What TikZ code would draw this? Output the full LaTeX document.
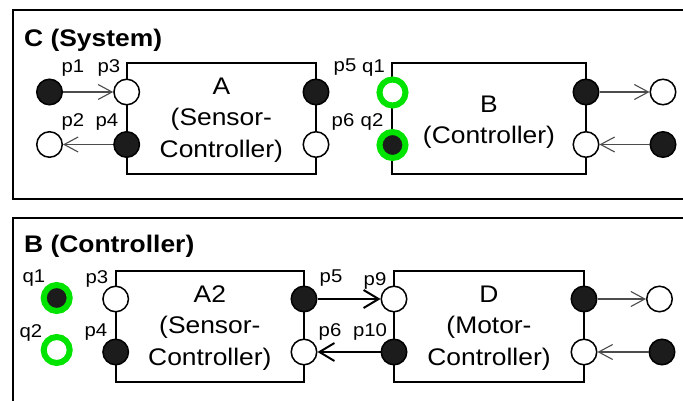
\documentclass[tikz,border=0pt]{standalone}
\usepackage{fontspec}
\setmainfont[FakeStretch=1.1]{Liberation Sans}
\usetikzlibrary{arrows.meta}
\definecolor{dark}{RGB}{28,28,28}
\definecolor{ringgreen}{RGB}{0,228,0}
\newcommand{\firstline}[1]{\rule{0pt}{#1}}
\begin{document}
\begin{tikzpicture}[x=1pt,y=-1pt,
  frame/.style={draw=black, line width=2pt},
  box/.style={draw=black, line width=2pt, rectangle, minimum width=#1, minimum height=111pt,
    inner sep=0pt, align=center, font=\fontsize{24}{31.5}\selectfont},
  box/.default=190pt,
  port/.style={circle, draw=black, line width=1.5pt, minimum size=25.5pt, inner sep=0pt},
  portf/.style={port, fill=dark},
  porto/.style={port, fill=white},
  gport/.style={circle, draw=ringgreen, line width=6pt, minimum size=26pt, inner sep=0pt},
  gportf/.style={gport, fill=dark},
  gporto/.style={gport, fill=white},
  lbl/.style={font=\fontsize{18.5}{20}\selectfont, anchor=base, inner sep=0pt},
  ttl/.style={font=\fontsize{24}{28}\selectfont\bfseries, anchor=base west, inner sep=0pt},
  conn/.style={draw=black!70, line width=1.1pt, -{Straight Barb[length=14pt,width=15pt]}},
  connb/.style={draw=black, line width=2pt, -{Straight Barb[length=15pt,width=18pt]}}
]
\clip (0,0) rectangle (683,401);
\fill[white] (0,0) rectangle (683,401);

% frames
\draw[frame] (13,10) rectangle (700,199);
\draw[frame] (13,218) rectangle (700,430);
\node[ttl] (t1) at (24,47) {C (System)};
\node[ttl] (t2) at (24,252.5) {B (Controller)};

% ---------- top: C (System)
\node[box=189.3pt] (A) at (221.35,118.5) {\firstline{19pt}A\\(Sensor-\\Controller)};
\node[box=194pt] (B) at (489,119) {\firstline{22.5pt}B\\(Controller)};

\node[portf] (p1) at (49.5,92) {};
\node[porto] (p2) at (49.5,144.5) {};
\node[porto] (p3) at (126.7,92) {};
\node[portf] (p4) at (126.7,144.5) {};
\node[portf] (p5) at (316,92) {};
\node[porto] (p6) at (316,144.5) {};
\node[gporto] (q1) at (392.5,92.5) {};
\node[gportf] (q2) at (392.5,145) {};
\node[portf] (bo1) at (586,92) {};
\node[porto] (bo2) at (586,144.5) {};
\node[porto] (e1) at (663,92) {};
\node[portf] (e2) at (663,144.5) {};

\draw[conn] (p1) -- (p3);
\draw[conn] (p4) -- (p2);
\draw[conn] (bo1) -- (e1);
\draw[conn] (e2) -- (bo2);

\node[lbl] (lp1) at (73,73) {p1};
\node[lbl] (lp3) at (109,73) {p3};
\node[lbl] (lp2) at (73,126.5) {p2};
\node[lbl] (lp4) at (107,126.5) {p4};
\node[lbl] (lp5) at (345,72) {p5};
\node[lbl] (lp6) at (343,127) {p6};
\node[lbl] (lq1) at (373.5,73) {q1};
\node[lbl] (lq2) at (372,127) {q2};

% ---------- bottom: B (Controller)
\node[box=188.3pt] (A2) at (209.85,326.5) {\firstline{19pt}A2\\(Sensor-\\Controller)};
\node[box=190pt] (D) at (489,326.5) {\firstline{19pt}D\\(Motor-\\Controller)};

\node[gportf] (bq1) at (56.7,298) {};
\node[gporto] (bq2) at (56.7,350) {};
\node[porto] (bp3) at (115.7,299) {};
\node[portf] (bp4) at (115.7,352) {};
\node[portf] (bp5) at (304,299) {};
\node[porto] (bp6) at (304,352) {};
\node[porto] (p9) at (394,299) {};
\node[portf] (p10) at (394,352) {};
\node[portf] (dr1) at (584,299) {};
\node[porto] (dr2) at (584,352) {};
\node[porto] (de1) at (659.5,299) {};
\node[portf] (de2) at (662,352) {};

\draw[connb] (bp5) -- (p9);
\draw[connb] (p10) -- (bp6);
\draw[conn] (dr1) -- (de1);
\draw[conn] (de2) -- (dr2);

\node[lbl] (lbq1) at (34,282.5) {q1};
\node[lbl] (lbq2) at (31,337.5) {q2};
\node[lbl] (lbp3) at (97,283) {p3};
\node[lbl] (lbp4) at (96,336) {p4};
\node[lbl] (lbp5) at (331,282.5) {p5};
\node[lbl] (lbp6) at (330,336.5) {p6};
\node[lbl] (lp9) at (375,285.5) {p9};
\node[lbl] (lp10) at (370,336) {p10};
\end{tikzpicture}
\end{document}
